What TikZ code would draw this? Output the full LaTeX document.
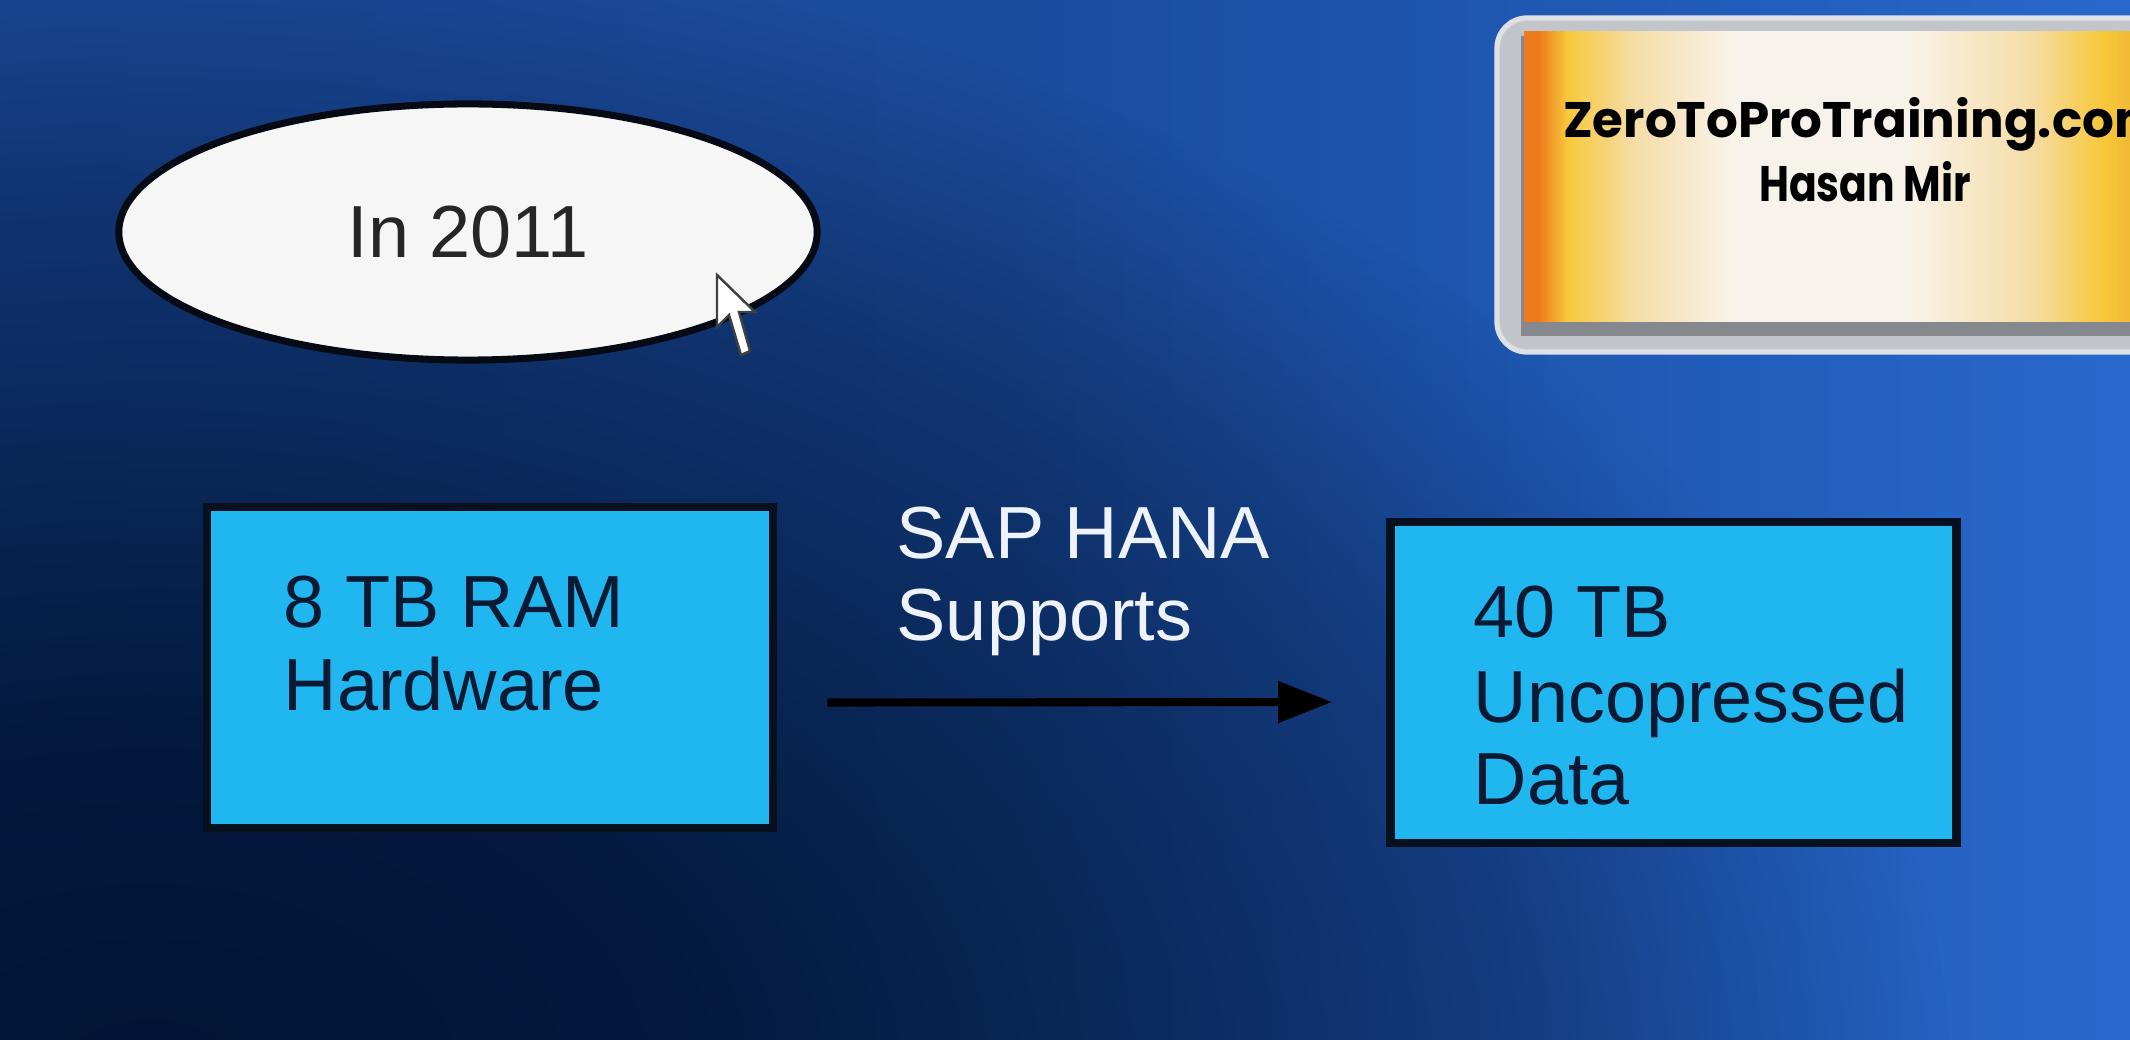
\documentclass[tikz,border=0pt]{standalone}
\usepackage{fontspec}
\setmainfont{Liberation Sans}
\newfontfamily\geofont{Poppins}
\usetikzlibrary{shapes.geometric,arrows.meta,calc,fadings}
\definecolor{bL}{HTML}{1A4898}
\definecolor{bM}{HTML}{1B4C9C}
\definecolor{bN}{HTML}{1F56B0}
\definecolor{bR}{HTML}{2868CC}
\definecolor{blobcol}{HTML}{011434}
\definecolor{gO}{HTML}{EE7A1E}
\definecolor{gY}{HTML}{F7C83A}
\definecolor{gC}{HTML}{F6DDA8}
\definecolor{gL}{HTML}{F8F3EA}
\definecolor{gR}{HTML}{F0B434}
\definecolor{boxfill}{HTML}{20B6F0}
\definecolor{boxline}{HTML}{06101E}
\definecolor{boxtext}{HTML}{0B1A33}
\definecolor{ellfill}{HTML}{F6F6F6}
\definecolor{ellline}{HTML}{050A14}
\definecolor{elltext}{HTML}{262626}
\definecolor{saptext}{HTML}{EEF2FA}
\definecolor{framegray}{HTML}{C2C6CB}
\definecolor{framehi}{HTML}{DDE1E5}
\definecolor{shadowgray}{HTML}{85898E}
\pgfdeclarehorizontalshading{bgbase}{100bp}{color(0bp)=(bL); color(25bp)=(bL); color(48.5bp)=(bM); color(60bp)=(bN); color(75bp)=(bR); color(100bp)=(bR)}
\pgfdeclareradialshading{blobshade}{\pgfpointorigin}{color(0bp)=(white); color(7.5bp)=(white!90!black); color(13.75bp)=(white!62!black); color(18.75bp)=(white!40!black); color(22.5bp)=(white!15!black); color(25bp)=(black); color(50bp)=(black)}
\pgfdeclarefading{blob}{\pgfuseshading{blobshade}}
\pgfdeclarehorizontalshading{goldbar}{100bp}{color(0bp)=(gO); color(25bp)=(gO); color(26.2bp)=(gO); color(28.5bp)=(gY); color(34bp)=(gC); color(42bp)=(gL); color(56bp)=(gL); color(66bp)=(gC); color(72bp)=(gY); color(75bp)=(gR); color(100bp)=(gR)}
\begin{document}
\begin{tikzpicture}[x=0.01cm,y=-0.01cm,
  box/.style={rectangle, draw=boxline, line width=2.4pt, fill=boxfill,
    minimum width=5.66cm, minimum height=3.21cm, inner sep=0pt},
  boxtxt/.style={anchor=base west, inner sep=0pt, text=boxtext,
    font=\fontsize{21}{24}\selectfont},
  saptxt/.style={anchor=base west, inner sep=0pt, text=saptext,
    font=\fontsize{21}{24}\selectfont},
  brand/.style={anchor=base, inner sep=0pt, text=black,
    font=\geofont\bfseries\fontsize{14.2}{17}\selectfont},
  conn/.style={draw=black, line width=2.3pt,
    -{Triangle[length=0.54cm,width=0.40cm]}}
]
\useasboundingbox (0,0) rectangle (2130,1040);
% background
\begin{scope}
  \clip (0,0) rectangle (2130,1040);
  \shade[shading=bgbase] (0,0) rectangle (2130,1040);
  \fill[blobcol, path fading=blob, fit fading=true]
    (150,1080) ellipse [x radius=18cm, y radius=11.5cm];
  % brand box
  \fill[framegray, draw=framehi, line width=1.5pt, rounded corners=0.3cm]
    (1497,18) rectangle (2220,352);
  \fill[shadowgray] (1521,36) rectangle (2150,336);
  \shade[shading=goldbar] (1524,32) rectangle (2140,322);
\end{scope}
\node[brand] (t1) at (1865,138) {ZeroToProTraining.com};
\node[brand] (t2) at (1865,202) {\addfontfeature{FakeStretch=0.82}Hasan Mir};
% ellipse
\node[ellipse, draw=ellline, line width=2pt, fill=ellfill,
  minimum width=6.98cm, minimum height=2.56cm, inner sep=0pt,
  text=elltext, font=\fontsize{21}{24}\selectfont] (E) at (468,232) {In 2011};
% cursor
\filldraw[fill=white, draw=black!75, line width=0.7pt, line join=miter]
  (717,275) -- (717,327) -- (729,315) -- (741,355) -- (750,351)
  -- (739,312) -- (755,312) -- cycle;
% boxes
\node[box] (L) at (490,667.5) {};
\node[box] (R) at (1673.5,682.5) {};
\node[boxtxt] (l1) at (283,627) {8 TB RAM};
\node[boxtxt] (l2) at (283,710) {Hardware};
\node[boxtxt] (r1) at (1473,637) {40 TB};
\node[boxtxt] (r2) at (1473,722) {Uncopressed};
\node[boxtxt] (r3) at (1473,804) {Data};
\node[saptxt] (s1) at (896,558) {SAP HANA};
\node[saptxt] (s2) at (896,640) {Supports};
% connector
\draw[conn] ($(L.east)+(50,35)$) -- ($(R.west)+(-54,19.5)$);
\end{tikzpicture}
\end{document}
